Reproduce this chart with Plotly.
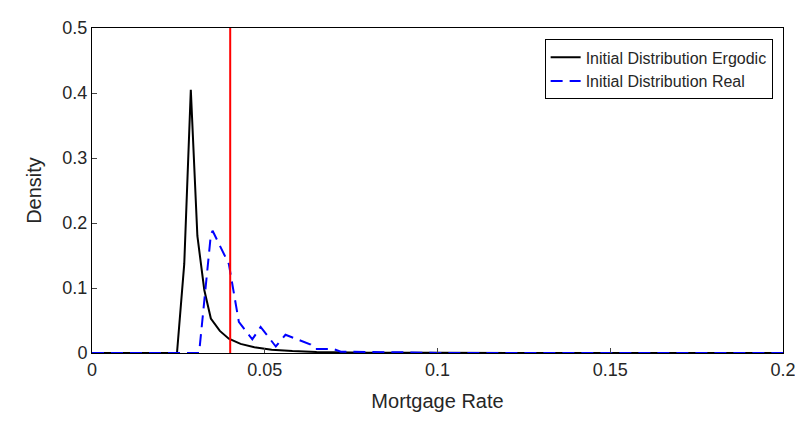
import plotly.graph_objects as go

ergodic_x = [0, 0.0246, 0.0267, 0.0286, 0.0305, 0.0325, 0.0344, 0.037, 0.0396, 0.043, 0.047, 0.052, 0.058, 0.065, 0.08, 0.1, 0.2]
ergodic_y = [0, 0, 0.137, 0.405, 0.18, 0.097, 0.053, 0.034, 0.022, 0.014, 0.009, 0.005, 0.003, 0.0015, 0.0005, 0.0002, 0]

real_x = [0, 0.031, 0.0344, 0.0349, 0.0396, 0.0425, 0.0464, 0.0488, 0.0532, 0.056, 0.0633, 0.0645, 0.07, 0.072, 0.09, 0.1, 0.2]
real_y = [0, 0, 0.182, 0.188, 0.137, 0.048, 0.021, 0.04, 0.01, 0.028, 0.013, 0.006, 0.006, 0.002, 0.001, 0, 0]

ref_rate = 0.04

fig = go.Figure()
fig.add_trace(go.Scatter(x=ergodic_x, y=ergodic_y, mode="lines", name="Initial Distribution Ergodic",
                         line=dict(color="black", width=2)))
fig.add_trace(go.Scatter(x=real_x, y=real_y, mode="lines", name="Initial Distribution Real",
                         line=dict(color="blue", width=2, dash="12px,7px")))
fig.add_trace(go.Scatter(x=[ref_rate, ref_rate], y=[0, 0.5], mode="lines", showlegend=False,
                         line=dict(color="red", width=2)))

axis = dict(showline=True, mirror=True, linecolor="black", linewidth=1, ticks="inside",
            ticklen=5, showgrid=False, zeroline=False, tickfont=dict(size=18))
fig.update_layout(
    width=803, height=431, plot_bgcolor="white", paper_bgcolor="white",
    font=dict(family="Liberation Sans, Arial", color="#262626"),
    margin=dict(l=84, r=28, t=10, b=86),
    xaxis=dict(axis, range=[0, 0.2], tickvals=[0, 0.05, 0.1, 0.15, 0.2],
               ticktext=["0", "0.05", "0.1", "0.15", "0.2"],
               title=dict(text="Mortgage Rate", font=dict(size=20))),
    yaxis=dict(axis, range=[0, 0.5], tickvals=[0, 0.1, 0.2, 0.3, 0.4, 0.5],
               ticktext=["0", "0.1", "0.2", "0.3", "0.4", "0.5"],
               title=dict(text="Density", font=dict(size=20))),
    legend=dict(x=0.985, y=0.965, xanchor="right", yanchor="top", bgcolor="white",
                bordercolor="black", borderwidth=1, font=dict(size=16)),
)
fig.write_html("out.html")
